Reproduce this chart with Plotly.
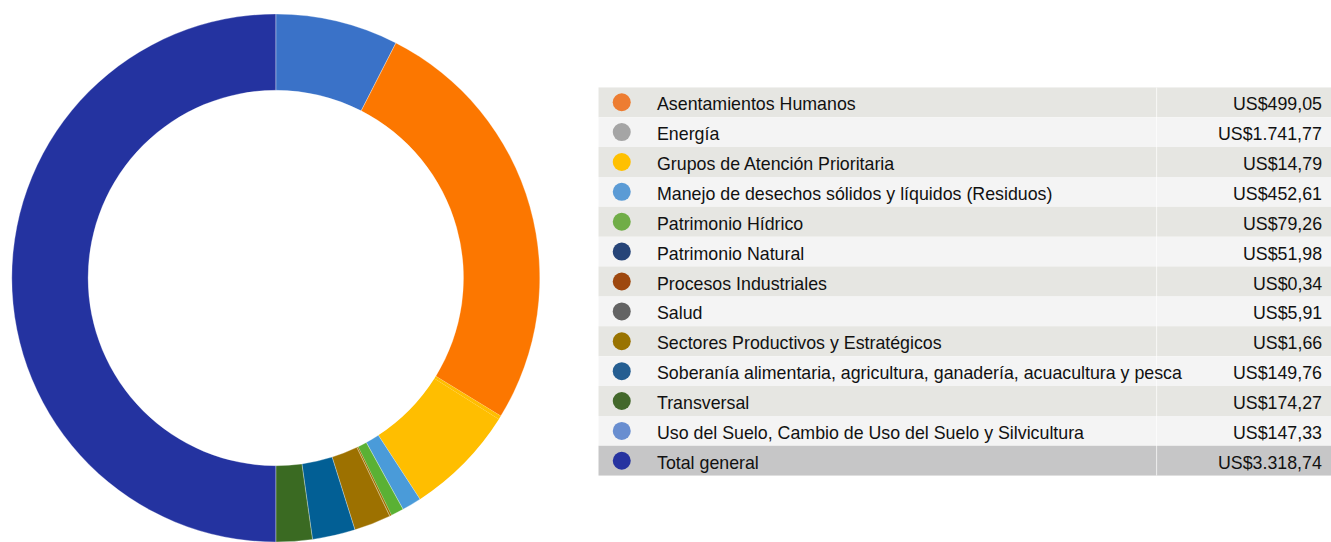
import plotly.graph_objs as go

# Data
categories = [
    "Asentamientos Humanos",
    "Energía",
    "Grupos de Atención Prioritaria",
    "Manejo de desechos sólidos y líquidos (Residuos)",
    "Patrimonio Hídrico",
    "Patrimonio Natural",
    "Procesos Industriales",
    "Salud",
    "Sectores Productivos y Estratégicos",
    "Soberanía alimentaria, agricultura, ganadería, acuacultura y pesca",
    "Transversal",
    "Uso del Suelo, Cambio de Uso del Suelo y Silvicultura",
    "Total general",
]
values = [499.05, 1741.77, 14.79, 452.61, 79.26, 51.98, 0.34, 5.91, 1.66,
          149.76, 174.27, 147.33, 3318.74]
value_labels = ["US$499,05", "US$1.741,77", "US$14,79", "US$452,61", "US$79,26",
                "US$51,98", "US$0,34", "US$5,91", "US$1,66", "US$149,76",
                "US$174,27", "US$147,33", "US$3.318,74"]

# donut slice colours (as drawn in the ring)
ring_colors = ["#3A72C8", "#FC7700", "#FFBE00", "#FFBE00", "#4A9BD9", "#5AB134",
               "#9D7100", "#9D7100", "#9D7100", "#9D7100", "#025F95", "#3A6A22",
               "#2433A0"]
# legend dot colours
dot_colors = ["#ED7D31", "#A5A5A5", "#FFC000", "#5B9BD5", "#70AD47", "#264478",
              "#9E480E", "#636363", "#997300", "#255E91", "#43682B", "#698ED0",
              "#2633A0"]
row_fills = ["#E6E6E2", "#F4F4F4"]
total_fill = "#C6C6C7"

W, H = 1331, 542
FONT = "Liberation Sans, Arial, Helvetica, sans-serif"

fig = go.Figure()

# Donut: thin light outlines, none on the slivers so they don't show as extra lines
edge_w = [0.6, 0.6, 0, 0, 0.6, 0.6, 0, 0, 0, 0.6, 0.6, 0.6, 0.6]
fig.add_trace(go.Pie(
    labels=categories,
    values=values,
    sort=False,
    direction="clockwise",
    rotation=0,
    hole=0.711,
    marker=dict(colors=ring_colors, line=dict(color="rgba(255,255,255,0.5)", width=edge_w)),
    textinfo="none",
    hoverinfo="label+value",
    showlegend=False,
    domain=dict(x=[(275.8 - 264) / W, (275.8 + 264) / W],
                y=[(H - 278 - 264) / H, (H - 278 + 264) / H]),
))

# Table-like legend on its own hidden axes (y = row index)
n = len(categories)
top_px, bot_px = 87.3, 475.7
left_px = 598.3
x_dot, x_label, x_sep, x_val = 0.032, 0.0775, 0.762, 0.9905

fig.add_trace(go.Scatter(
    x=[x_dot] * n,
    y=list(range(n)),
    mode="markers",
    marker=dict(size=18, color=dot_colors, line=dict(width=0)),
    hoverinfo="skip",
    showlegend=False,
    xaxis="x", yaxis="y",
))

shapes = []
annotations = []
for i, (cat, lab) in enumerate(zip(categories, value_labels)):
    fill = total_fill if i == n - 1 else row_fills[i % 2]
    shapes.append(dict(type="rect", xref="x", yref="y", x0=0, x1=1,
                       y0=i - 0.5, y1=i + 0.5, fillcolor=fill,
                       line=dict(width=0), layer="below"))
    annotations.append(dict(x=x_label, y=i, xref="x", yref="y", text=cat,
                            showarrow=False, xanchor="left", yanchor="middle", yshift=-2,
                            font=dict(family=FONT, size=17.8, color="#111111")))
    annotations.append(dict(x=x_val, y=i, xref="x", yref="y", text=lab,
                            showarrow=False, xanchor="right", yanchor="middle", yshift=-2,
                            font=dict(family=FONT, size=17.8, color="#111111")))

# column divider between names and amounts
shapes.append(dict(type="line", xref="x", yref="y", x0=x_sep, x1=x_sep,
                   y0=-0.5, y1=n - 0.5, line=dict(color="rgba(255,255,255,0.7)", width=1),
                   layer="below"))

fig.update_layout(
    width=W, height=H,
    autosize=False,
    margin=dict(l=0, r=0, t=0, b=0),
    paper_bgcolor="white",
    plot_bgcolor="rgba(0,0,0,0)",
    shapes=shapes,
    annotations=annotations,
    xaxis=dict(domain=[left_px / W, 1], range=[0, 1], visible=False, fixedrange=True),
    yaxis=dict(domain=[(H - bot_px) / H, (H - top_px) / H], range=[n - 0.5, -0.5],
               visible=False, fixedrange=True),
    font=dict(family=FONT),
)

# page body has an 8px default margin; drop it so the figure fills the window
fig.write_html("out.html", config={"displayModeBar": False},
               post_script="document.body.style.margin='0';document.body.style.overflow='hidden';")
